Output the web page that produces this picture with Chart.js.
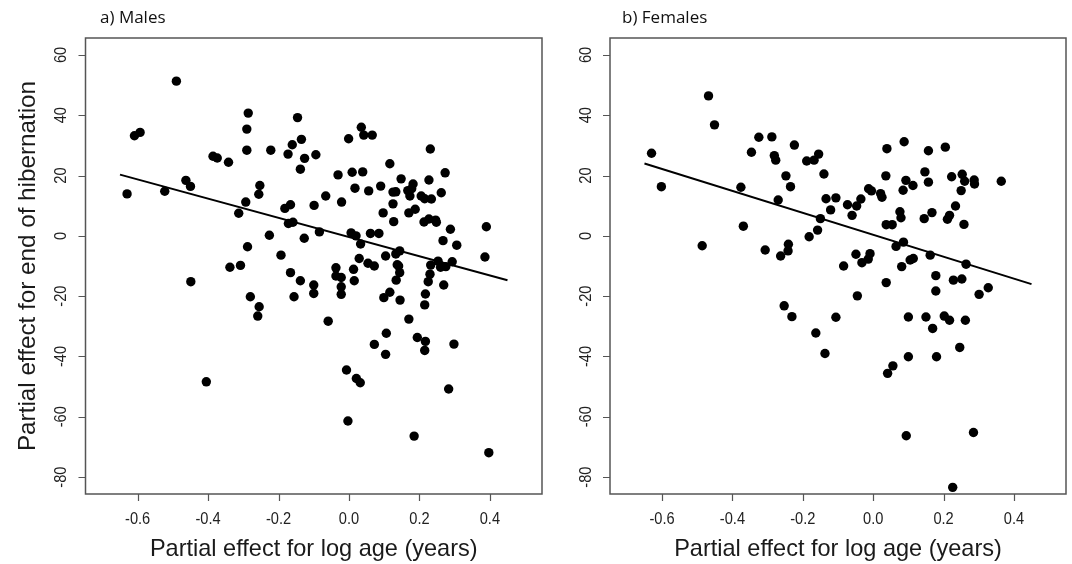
<!DOCTYPE html>
<html>
<head>
<meta charset="utf-8">
<script src="https://cdn.jsdelivr.net/npm/chart.js@4.4.1/dist/chart.umd.min.js"></script>
<style>
  html, body { margin: 0; padding: 0; background: #ffffff; }
  #wrap { position: relative; width: 1072px; height: 564px; overflow: hidden; background: #fff; }
  canvas { position: absolute; top: 0; }
</style>
</head>
<body>
<div id="wrap">
  <canvas id="cA" width="560" height="564" style="left:0px"></canvas>
  <canvas id="cB" width="512" height="564" style="left:560px"></canvas>
</div>
<script>
// ---------- data ----------
const xTicks = [-0.6, -0.4, -0.2, 0.0, 0.2, 0.4];
const xTickLabels = ['-0.6', '-0.4', '-0.2', '0.0', '0.2', '0.4'];
const yTicks = [60, 40, 20, 0, -20, -40, -60, -80];
const yTickLabels = ['60', '40', '20', '0', '-20', '-40', '-60', '-80'];

const panelTitles = ['a) Males', 'b) Females'];
const xAxisTitle = 'Partial effect for log age (years)';
const yAxisTitle = 'Partial effect for end of hibernation';

const malesX = [-0.490,-0.609,-0.593,-0.286,-0.146,-0.290,-0.135,-0.161,-0.290,-0.222,-0.173,-0.094,-0.126,-0.386,-0.374,-0.342,-0.138,-0.630,-0.523,-0.463,-0.450,-0.253,-0.256,-0.293,-0.313,-0.182,-0.166,-0.099,-0.172,-0.159,-0.084,-0.226,-0.127,-0.288,-0.193,-0.338,-0.308,
0.035,0.042,0.066,-0.001,0.231,0.116,0.273,-0.031,0.009,0.039,0.148,0.227,0.182,0.090,0.017,0.056,0.125,0.133,0.167,0.178,0.173,0.205,0.215,0.234,0.262,-0.066,-0.021,0.125,0.097,0.170,0.188,0.127,0.213,0.227,0.246,0.248,0.390,0.288,0.006,0.020,0.061,0.085,0.033,0.267,0.306,0.144,0.133,0.104,0.029,0.386,-0.037,0.013,0.054,0.072,0.141,0.232,0.253,0.293,0.275,0.137,
-0.138,-0.100,-0.100,-0.037,-0.022,-0.022,-0.022,0.015,0.144,0.134,0.099,0.116,0.145,0.260,0.230,0.225,0.217,0.215,0.269,-0.059,0.106,0.072,0.104,0.170,0.194,0.217,0.215,0.298,-0.007,0.021,0.032,0.283,-0.003,0.185,0.397,
-0.449,-0.166,-0.280,-0.156,-0.255,-0.259,-0.405];
const malesY = [51.3,33.2,34.3,40.7,39.2,35.4,32.0,30.2,28.4,28.4,27.1,26.9,25.7,26.4,25.8,24.4,22.1,13.9,14.8,18.4,16.4,16.7,13.8,11.2,7.5,9.1,10.3,10.1,4.1,4.5,1.3,0.2,-0.8,-3.6,-6.4,-10.4,-9.8,
36.0,33.4,33.4,32.2,28.8,23.9,20.9,20.2,21.1,21.2,18.9,18.5,17.2,16.5,15.8,14.9,14.5,14.6,15.0,15.6,13.2,13.2,12.3,12.2,14.3,13.2,11.2,10.6,7.6,7.6,8.8,4.7,4.6,5.6,5.2,4.5,3.0,2.2,1.0,0.0,0.8,0.8,-2.7,-1.6,-3.1,-5.0,-6.0,-6.7,-7.5,-7.0,-10.6,-11.1,-9.1,-10.0,-10.0,-9.7,-8.4,-8.6,-10.2,-9.6,
-14.9,-16.3,-19.1,-13.3,-13.8,-16.9,-19.4,-14.9,-12.2,-14.7,-20.5,-18.7,-21.3,-10.4,-12.7,-15.2,-19.3,-22.9,-16.3,-28.3,-32.3,-36.0,-39.3,-27.6,-33.7,-35.0,-38.0,-35.9,-44.5,-47.3,-48.7,-50.8,-61.4,-66.4,-71.9,
-15.2,-12.2,-20.2,-20.2,-23.5,-26.6,-48.4];

const femalesX = [-0.468,-0.451,-0.630,-0.325,-0.288,-0.224,-0.346,-0.281,-0.277,-0.155,-0.189,-0.168,-0.140,-0.248,-0.235,-0.602,-0.376,-0.270,-0.134,-0.106,-0.121,-0.150,-0.158,-0.182,-0.369,-0.486,-0.307,-0.241,-0.242,-0.263,
0.088,0.039,0.157,0.205,0.036,0.147,0.157,0.093,0.113,0.085,0.223,0.253,0.260,0.287,0.288,0.364,0.250,-0.013,-0.005,0.021,0.025,-0.073,-0.047,-0.035,-0.060,0.076,0.079,0.167,0.145,0.234,0.217,0.211,0.258,0.037,0.054,0.086,0.065,0.162,0.264,-0.049,-0.009,-0.014,-0.032,-0.084,0.081,0.105,0.114,
-0.253,-0.231,-0.106,-0.163,-0.137,
0.178,0.037,0.228,0.252,0.178,0.327,0.301,-0.045,0.100,0.150,0.202,0.217,0.262,0.169,0.100,0.180,0.246,0.056,0.041,0.094,0.285,0.226];
const femalesY = [46.4,36.8,27.4,32.7,32.8,30.1,27.7,26.6,25.1,27.1,24.8,25.1,20.5,19.9,16.3,16.3,16.1,11.9,12.3,12.6,8.6,5.7,1.9,-0.3,3.2,-3.3,-4.7,-2.8,-5.0,-6.7,
31.2,28.9,28.2,29.4,19.9,21.2,17.8,18.4,16.7,15.1,19.6,20.4,18.1,18.5,17.2,18.1,15.0,15.6,14.9,14.0,12.8,10.3,9.9,12.2,6.8,8.0,6.0,7.7,5.7,9.9,6.8,5.5,3.8,3.7,3.7,-2.1,-3.5,-6.4,-9.4,-6.1,-5.9,-7.7,-8.9,-10.0,-10.2,-8.0,-7.5,
-23.2,-26.8,-27.0,-32.2,-39.0,
-13.2,-15.5,-14.7,-14.3,-18.3,-17.2,-19.4,-19.9,-26.9,-26.9,-26.6,-28.0,-28.0,-30.7,-40.1,-40.1,-37.0,-43.1,-45.6,-66.3,-65.2,-83.4];

const malesFitX = [-0.65, 0.45];
const malesFitY = [20.3, -14.7];
const femalesFitX = [-0.65, 0.45];
const femalesFitY = [24.0, -16.0];

// ---------- helpers ----------
const TICK_FONT = '17px "Liberation Sans", Arial, sans-serif';
const TITLE_FONT = '24px "Liberation Sans", Arial, sans-serif';
const PANEL_FONT = '17px "Open Sans", "Noto Sans", sans-serif';

function drawText(ctx, text, x, y, rot, sx, font, color) {
  ctx.save();
  ctx.font = font;
  ctx.fillStyle = color;
  ctx.textAlign = 'center';
  ctx.textBaseline = 'middle';
  ctx.translate(x, y);
  if (rot) ctx.rotate(rot);
  ctx.scale(sx, 1);
  ctx.fillText(text, 0, 0);
  ctx.restore();
}

function makeFramePlugin(opts) {
  return {
    id: 'frame',
    afterDraw(chart) {
      const ctx = chart.ctx;
      const a = chart.chartArea;
      const xs = chart.scales.x, ys = chart.scales.y;
      ctx.save();
      ctx.strokeStyle = '#555';
      ctx.lineWidth = 1.5;
      ctx.strokeRect(a.left, a.top, a.right - a.left, a.bottom - a.top);
      ctx.lineWidth = 1.2;
      ctx.beginPath();
      xTicks.forEach(v => {
        const px = Math.round(xs.getPixelForValue(v)) + 0.5;
        ctx.moveTo(px, a.bottom); ctx.lineTo(px, a.bottom + 7);
      });
      yTicks.forEach(v => {
        const py = Math.round(ys.getPixelForValue(v)) + 0.5;
        ctx.moveTo(a.left - 7, py); ctx.lineTo(a.left, py);
      });
      ctx.stroke();
      ctx.restore();
      xTicks.forEach((v, i) => {
        drawText(ctx, xTickLabels[i], xs.getPixelForValue(v), a.bottom + 25, 0, 0.86, TICK_FONT, '#222');
      });
      yTicks.forEach((v, i) => {
        drawText(ctx, yTickLabels[i], a.left - 24, ys.getPixelForValue(v), -Math.PI / 2, 0.86, TICK_FONT, '#222');
      });
      const cx = (a.left + a.right) / 2;
      drawText(ctx, xAxisTitle, cx, 549, 0, 0.98, TITLE_FONT, '#1a1a1a');
      if (opts.yTitle) {
        drawText(ctx, yAxisTitle, 28, (a.top + a.bottom) / 2, -Math.PI / 2, 1.01, TITLE_FONT, '#1a1a1a');
      }
      ctx.save();
      ctx.font = PANEL_FONT;
      ctx.fillStyle = '#111';
      ctx.textAlign = 'left';
      ctx.textBaseline = 'middle';
      ctx.fillText(opts.title, opts.titleX, 18);
      ctx.restore();
    }
  };
}

function makeChart(id, xs, ys, fx, fy, pad, opts) {
  const pts = xs.map((x, i) => ({ x: x, y: ys[i] }));
  const fit = fx.map((x, i) => ({ x: x, y: fy[i] }));
  return new Chart(document.getElementById(id), {
    type: 'scatter',
    data: {
      datasets: [
        { data: pts, backgroundColor: '#000', borderColor: '#000', pointRadius: 4.7, pointHoverRadius: 4.7, borderWidth: 0 },
        { type: 'line', data: fit, borderColor: '#000', borderWidth: 2, pointRadius: 0, fill: false, tension: 0 }
      ]
    },
    options: {
      responsive: false,
      animation: false,
      devicePixelRatio: 1,
      layout: { padding: pad },
      plugins: { legend: { display: false }, tooltip: { enabled: false } },
      scales: {
        x: {
          type: 'linear', min: -0.748, max: 0.548,
          grid: { display: false }, border: { display: false },
          ticks: { display: false },
          afterFit: s => { s.height = 0; }
        },
        y: {
          type: 'linear', min: -85.6, max: 65.6,
          grid: { display: false }, border: { display: false },
          ticks: { display: false },
          afterFit: s => { s.width = 0; }
        }
      }
    },
    plugins: [makeFramePlugin(opts)]
  });
}

makeChart('cA', malesX, malesY, malesFitX, malesFitY,
  { left: 85.5, right: 18, top: 38, bottom: 70 },
  { yTitle: true, title: panelTitles[0], titleX: 100 });
makeChart('cB', femalesX, femalesY, femalesFitX, femalesFitY,
  { left: 50, right: 6, top: 38, bottom: 70 },
  { yTitle: false, title: panelTitles[1], titleX: 62 });
</script>
</body>
</html>
